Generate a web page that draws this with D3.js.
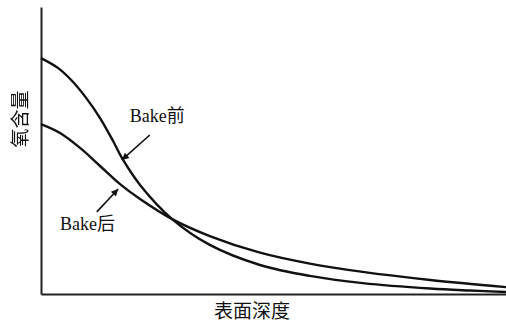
<!DOCTYPE html>
<html>
<head>
<meta charset="utf-8">
<script src="https://cdn.jsdelivr.net/npm/d3@7"></script>
<style>
  html, body { margin: 0; padding: 0; background: #fff; }
  svg { display: block; }
  text { fill: #111; }
</style>
</head>
<body>
<svg id="chart" width="506" height="326"></svg>
<script>
// Relative depth (0-100) and relative oxygen content (0-100)
const depthBefore = [0, 3.7, 6.7, 9.9, 12.7, 15.5, 17.4, 21.3, 28.2, 36.3, 47.1, 57.8, 69.2, 83.7, 92.3, 100];
const oxygenBefore = [82.2, 78.7, 74.2, 67.9, 61.3, 53.3, 47.4, 38.0, 26.1, 17.1, 10.1, 6.3, 3.8, 1.9, 1.2, 0.7];

const depthAfter = [0, 4.1, 8.4, 12.7, 17.0, 21.3, 28.2, 36.3, 47.1, 57.8, 69.2, 83.7, 100];
const oxygenAfter = [59.2, 56.1, 50.9, 44.6, 38.3, 33.1, 26.1, 20.2, 14.4, 10.6, 7.7, 4.9, 2.4];

const seriesNames = ["Bake前", "Bake后"];
const xTitle = "表面深度";
const yTitle = "氧含量";

// Annotation labels with arrows (data units): text anchor, arrow tail, arrow tip
const labelPos = [[19.1, 59.9], [4.1, 22.3]];
const arrowFrom = [[23.4, 55.4], [12.0, 28.6]];
const arrowTo = [[17.4, 46.7], [16.6, 36.6]];

const svg = d3.select("#chart");
const margin = { left: 41, right: 0, top: 7, bottom: 32 };
const W = 506, H = 326;

const x = d3.scaleLinear().domain([0, 100]).range([margin.left, W - margin.right]);
const y = d3.scaleLinear().domain([0, 100]).range([H - margin.bottom, margin.top]);

const serif = "'Liberation Serif', 'Times New Roman', 'Noto Sans CJK SC', serif";

// Arrowhead marker
svg.append("defs").append("marker")
  .attr("id", "arrow")
  .attr("viewBox", "0 0 10 10")
  .attr("refX", 10).attr("refY", 5)
  .attr("markerWidth", 9).attr("markerHeight", 7)
  .attr("markerUnits", "userSpaceOnUse")
  .attr("orient", "auto")
  .append("path")
  .attr("d", "M0,0 L10,5 L0,10 Z")
  .attr("fill", "#111");

// Axes: plain lines, no ticks
const xAxis = d3.axisBottom(x).tickValues([]).tickSizeOuter(0);
const yAxis = d3.axisLeft(y).tickValues([]).tickSizeOuter(0);

svg.append("g")
  .attr("transform", `translate(0,${y(0)})`)
  .call(xAxis)
  .call(g => g.select(".domain").attr("stroke", "#222").attr("stroke-width", 2));

svg.append("g")
  .attr("transform", `translate(${x(0)},0)`)
  .call(yAxis)
  .call(g => g.select(".domain").attr("stroke", "#222").attr("stroke-width", 2));

// Curves
const line = d3.line()
  .x(d => x(d[0]))
  .y(d => y(d[1]))
  .curve(d3.curveCatmullRom.alpha(0.5));

const curves = [
  d3.zip(depthBefore, oxygenBefore),
  d3.zip(depthAfter, oxygenAfter)
];

svg.append("g")
  .selectAll("path")
  .data(curves)
  .join("path")
  .attr("d", line)
  .attr("fill", "none")
  .attr("stroke", "#111")
  .attr("stroke-width", 2.4)
  .attr("stroke-linejoin", "round");

// Annotation arrows and labels
seriesNames.forEach((name, i) => {
  svg.append("line")
    .attr("x1", x(arrowFrom[i][0])).attr("y1", y(arrowFrom[i][1]))
    .attr("x2", x(arrowTo[i][0])).attr("y2", y(arrowTo[i][1]))
    .attr("stroke", "#111")
    .attr("stroke-width", 1.6)
    .attr("marker-end", "url(#arrow)");

  svg.append("text")
    .attr("x", x(labelPos[i][0]))
    .attr("y", y(labelPos[i][1]))
    .attr("font-family", serif)
    .attr("font-size", 18)
    .text(name);
});

// Axis titles
svg.append("text")
  .attr("x", 252)
  .attr("y", 318)
  .attr("text-anchor", "middle")
  .attr("font-family", serif)
  .attr("font-size", 19)
  .text(xTitle);

svg.append("text")
  .attr("transform", "translate(27,119) rotate(-90)")
  .attr("text-anchor", "middle")
  .attr("font-family", serif)
  .attr("font-size", 19)
  .style("filter", "grayscale(1)")
  .text(yTitle);
</script>
</body>
</html>
